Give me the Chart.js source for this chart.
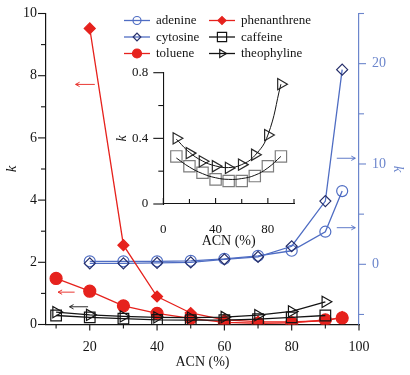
<!DOCTYPE html>
<html>
<head>
<meta charset="utf-8">
<script src="https://cdn.jsdelivr.net/npm/chart.js@4.4.0/dist/chart.umd.min.js"></script>
<style>
  body { margin: 0; background: #fff; }
  #wrap { position: relative; width: 410px; height: 375px; }
  #main-box { position: absolute; left: 0; top: 0; width: 410px; height: 375px; }
  #inset-box { position: absolute; left: 110px; top: 60px; width: 200px; height: 190px; }
</style>
</head>
<body>
<div id="wrap">
  <div id="main-box"><canvas id="mainChart"></canvas></div>
  <div id="inset-box"><canvas id="insetChart"></canvas></div>
</div>
<script>
// ACN (%) values
const acnBlue = [20, 30, 40, 50, 60, 70, 80, 90, 95]
const acnToluene = [10, 20, 30, 40, 50, 60, 70, 80, 90, 95]
const acnBlack = [10, 20, 30, 40, 50, 60, 70, 80, 90]

// k values (left axis unless noted)
const adenine = [0.3, 0.3, 0.3, 0.35, 0.55, 0.85, 1.35, 3.25, 7.3]      // right axis
const cytosine = [0.1, 0.1, 0.15, 0.2, 0.5, 0.75, 1.8, 6.3, 19.4]        // right axis
const phenanthrene = [9.52, 2.55, 0.9, 0.37, 0.15, 0.09, 0.08, 0.12, 0.24]
const toluene = [1.48, 1.07, 0.6, 0.36, 0.2, 0.07, 0.04, 0.05, 0.15, 0.21]
const caffeine = [0.29, 0.23, 0.19, 0.15, 0.14, 0.14, 0.17, 0.23, 0.29]
const theophyline = [0.40, 0.31, 0.26, 0.23, 0.22, 0.24, 0.30, 0.42, 0.73]

// inset fitted curves
const caffeineFit = [0.28, 0.225, 0.185, 0.16, 0.15, 0.155, 0.175, 0.22, 0.29]
const theophylineFit = [0.395, 0.315, 0.262, 0.232, 0.222, 0.24, 0.295, 0.42, 0.73]

// tick values
const xTicks = [10, 20, 30, 40, 50, 60, 70, 80, 90, 100]
const yTicks = [0, 1, 2, 3, 4, 5, 6, 7, 8, 9, 10]
const y2Ticks = [-5, 0, 5, 10, 15, 20, 25]
const insetXTicks = [0, 20, 40, 60, 80, 100]
const insetYTicks = [0, 0.2, 0.4, 0.6, 0.8]

// arrows pointing at the axis each curve belongs to (ACN from, ACN to, k)
const arrowFrom = [21.5, 15.5, 19.5, 93.4, 93.4]
const arrowTo = [15.8, 10.6, 14.0, 98.9, 98.9]
const arrowK = [7.72, 1.04, 0.57, 10.57, 3.65]
const arrowAxis = ['y', 'y', 'y', 'y2', 'y2']

const BLUE = '#4f6dc3'
const NAVY = '#27306b'
const AXIS_BLUE = '#6c86cc'
const RED = '#e6221d'
const INK = '#141414'
const CLEAR = 'rgba(0,0,0,0)'
const SERIF = '"Liberation Serif", "Times New Roman", serif'

const pts = (xs, ys) => xs.map((x, i) => ({ x: x, y: ys[i] }))
const setTicks = (vals) => (scale) => { scale.ticks = vals.map(v => ({ value: v })) }
const isStep = (v, step) => Math.abs(Math.round(v / step) * step - v) < 1e-9
// invisible tick marks only used to push the labels away from the axis
const labelGap = (len) => ({ drawOnChartArea: false, drawTicks: true, tickLength: len, tickColor: CLEAR })

// tick marks drawn by hand so major/minor lengths and direction match the figure
const tickMarks = {
    id: 'tickMarks',
    afterDraw(chart, args, opts) {
        const ctx = chart.ctx
        Object.keys(opts.scales || {}).forEach(id => {
            const s = chart.scales[id]
            const o = opts.scales[id]
            ctx.save()
            ctx.strokeStyle = o.color
            ctx.lineWidth = 1.1
            s.ticks.forEach(t => {
                const len = (isStep(t.value, o.step) ? o.major : o.minor) * o.dir
                const p = s.getPixelForValue(t.value)
                ctx.beginPath()
                if (s.position === 'bottom') {
                    ctx.moveTo(p, s.top); ctx.lineTo(p, s.top + len)
                } else if (s.position === 'left') {
                    ctx.moveTo(s.right, p); ctx.lineTo(s.right - len, p)
                } else {
                    ctx.moveTo(s.left, p); ctx.lineTo(s.left + len, p)
                }
                ctx.stroke()
            })
            ctx.restore()
        })
    }
}

const arrows = {
    id: 'arrows',
    afterDatasetsDraw(chart) {
        const ctx = chart.ctx
        const xs = chart.scales.x
        arrowK.forEach((k, i) => {
            const ys = chart.scales[arrowAxis[i]]
            const color = arrowAxis[i] === 'y2' ? BLUE : (i === 2 ? INK : RED)
            const x1 = xs.getPixelForValue(arrowFrom[i])
            const x2 = xs.getPixelForValue(arrowTo[i])
            const y = ys.getPixelForValue(k)
            const d = Math.sign(x2 - x1)
            ctx.save()
            ctx.strokeStyle = color
            ctx.lineWidth = 0.9
            ctx.beginPath()
            ctx.moveTo(x1, y); ctx.lineTo(x2, y)
            ctx.moveTo(x2 - d * 4, y - 2.2); ctx.lineTo(x2, y); ctx.lineTo(x2 - d * 4, y + 2.2)
            ctx.stroke()
            ctx.restore()
        })
    }
}

// two-column legend inside the plot
const columnLegend = {
    id: 'columnLegend',
    afterDraw(chart, args, opts) {
        const ctx = chart.ctx
        opts.items.forEach((item, i) => {
            const ds = chart.data.datasets.find(d => d.label === item.label)
            const col = Math.floor(i / 3)
            const x = opts.x[col]
            const y = opts.y[i % 3]
            ctx.save()
            ctx.strokeStyle = ds.borderColor
            ctx.lineWidth = 1.3
            ctx.beginPath()
            ctx.moveTo(x, y); ctx.lineTo(x + 26, y)
            ctx.stroke()
            ctx.fillStyle = ds.pointBackgroundColor
            ctx.strokeStyle = ds.pointBorderColor
            ctx.lineWidth = 1.2
            Chart.helpers.drawPoint(ctx, {
                pointStyle: ds.pointStyle, rotation: ds.pointRotation || 0,
                radius: item.r, borderWidth: 1.2
            }, x + 13, y)
            ctx.fillStyle = INK
            ctx.font = '13px ' + SERIF
            ctx.textBaseline = 'middle'
            ctx.fillText(item.label, x + 32, y + 0.5)
            ctx.restore()
        })
    }
}

const tickFont = { family: SERIF, size: 14 }

const mainDatasets = [
    {
        label: 'adenine', data: pts(acnBlue, adenine), yAxisID: 'y2',
        borderColor: BLUE, pointBorderColor: BLUE, pointBackgroundColor: CLEAR,
        pointStyle: 'circle', pointRadius: 5.5, order: 5
    },
    {
        label: 'cytosine', data: pts(acnBlue, cytosine), yAxisID: 'y2',
        borderColor: BLUE, pointBorderColor: NAVY, pointBackgroundColor: CLEAR,
        pointStyle: 'rectRot', pointRadius: 5.5, order: 4
    },
    {
        label: 'toluene', data: pts(acnToluene, toluene), yAxisID: 'y',
        borderColor: RED, pointBorderColor: RED, pointBackgroundColor: RED,
        pointStyle: 'circle', pointRadius: 6, order: 3
    },
    {
        label: 'phenanthrene', data: pts(acnBlue, phenanthrene), yAxisID: 'y',
        borderColor: RED, pointBorderColor: RED, pointBackgroundColor: RED,
        pointStyle: 'rectRot', pointRadius: 5.5, order: 2
    },
    {
        label: 'caffeine', data: pts(acnBlack, caffeine), yAxisID: 'y',
        borderColor: INK, pointBorderColor: INK, pointBackgroundColor: CLEAR,
        pointStyle: 'rect', pointRadius: 7.5, order: 1
    },
    {
        label: 'theophyline', data: pts(acnBlack, theophyline), yAxisID: 'y',
        borderColor: INK, pointBorderColor: INK, pointBackgroundColor: CLEAR,
        pointStyle: 'triangle', pointRotation: 90, pointRadius: 6.5, order: 0
    }
]
mainDatasets.forEach(d => {
    d.borderWidth = 1.3
    d.pointBorderWidth = 1.2
    d.tension = 0
})

new Chart(document.getElementById('mainChart').getContext('2d'), {
    type: 'line',
    data: { datasets: mainDatasets },
    options: {
        responsive: true,
        maintainAspectRatio: false,
        animation: false,
        layout: { padding: { top: 13.5, left: 0, right: 0, bottom: 0 } },
        scales: {
            x: {
                type: 'linear', min: 7, max: 100,
                afterBuildTicks: setTicks(xTicks),
                afterFit: s => { s.height = 50.5 },
                ticks: { callback: v => (v % 20 === 0 ? v : ''), font: tickFont, color: INK, padding: 0, maxRotation: 0, autoSkip: false },
                grid: labelGap(14),
                border: { color: INK, width: 1.2 },
                title: { display: true, text: 'ACN (%)', font: tickFont, color: INK, padding: { top: 0, bottom: 4 } }
            },
            y: {
                position: 'left', min: 0, max: 10,
                afterBuildTicks: setTicks(yTicks),
                afterFit: s => { s.width = 46 },
                ticks: { callback: v => (v % 2 === 0 ? v : ''), font: tickFont, color: INK, padding: 0, autoSkip: false },
                grid: labelGap(9),
                border: { color: INK, width: 1.2 },
                title: { display: true, text: 'k', font: { family: SERIF, size: 15, style: 'italic' }, color: INK, padding: { top: 3, bottom: 0 } }
            },
            y2: {
                position: 'right', min: -6, max: 25,
                afterBuildTicks: setTicks(y2Ticks),
                afterFit: s => { s.width = 51 },
                ticks: { callback: v => (v % 10 === 0 ? v : ''), font: tickFont, color: AXIS_BLUE, padding: 0, autoSkip: false },
                grid: labelGap(13),
                border: { color: AXIS_BLUE, width: 1.2 },
                title: { display: true, text: 'k', font: { family: SERIF, size: 15, style: 'italic' }, color: AXIS_BLUE, padding: { top: 3, bottom: 0 } }
            }
        },
        plugins: {
            legend: { display: false },
            tooltip: { enabled: false },
            tickMarks: {
                scales: {
                    x: { color: INK, step: 20, major: 6, minor: 4, dir: 1 },
                    y: { color: INK, step: 2, major: 8, minor: 5, dir: 1 },
                    y2: { color: AXIS_BLUE, step: 10, major: 7, minor: 5, dir: 1 }
                }
            },
            columnLegend: {
                x: [124, 209],
                y: [20.5, 37, 53.5],
                items: [
                    { label: 'adenine', r: 4 }, { label: 'cytosine', r: 3.8 }, { label: 'toluene', r: 4.5 },
                    { label: 'phenanthrene', r: 4 }, { label: 'caffeine', r: 6.5 }, { label: 'theophyline', r: 4.5 }
                ]
            }
        }
    },
    plugins: [tickMarks, arrows, columnLegend]
})

// inset: caffeine and theophyline with fitted curves
const insetDatasets = [
    {
        label: 'theophyline fit', data: pts(acnBlack, theophylineFit),
        borderColor: INK, borderWidth: 1, pointRadius: 0, tension: 0.45
    },
    {
        label: 'caffeine fit', data: pts(acnBlack, caffeineFit),
        borderColor: INK, borderWidth: 1, pointRadius: 0, tension: 0.45
    },
    {
        label: 'theophyline', data: pts(acnBlack, theophyline), showLine: false,
        pointStyle: 'triangle', pointRotation: 90, pointRadius: 6.5,
        pointBorderColor: '#2a2a2a', pointBackgroundColor: CLEAR, pointBorderWidth: 1.2
    },
    {
        label: 'caffeine', data: pts(acnBlack, caffeine), showLine: false,
        pointStyle: 'rect', pointRadius: 8,
        pointBorderColor: '#7d7d7d', pointBackgroundColor: CLEAR, pointBorderWidth: 1.2
    }
]

const insetFont = { family: SERIF, size: 13 }

new Chart(document.getElementById('insetChart').getContext('2d'), {
    type: 'line',
    data: { datasets: insetDatasets },
    options: {
        responsive: true,
        maintainAspectRatio: false,
        animation: false,
        layout: { padding: { top: 12.7, right: 16, left: 0, bottom: 0 } },
        scales: {
            x: {
                type: 'linear', min: 0, max: 100,
                afterBuildTicks: setTicks(insetXTicks),
                afterFit: s => { s.height = 46 },
                ticks: { callback: v => (v % 40 === 0 ? v : ''), font: insetFont, color: INK, padding: 0, maxRotation: 0, autoSkip: false },
                grid: labelGap(18),
                border: { color: INK, width: 1.1 },
                title: { display: true, text: 'ACN (%)', font: { family: SERIF, size: 14 }, color: INK, padding: { top: 0, bottom: 0 } }
            },
            y: {
                min: 0, max: 0.8,
                afterBuildTicks: setTicks(insetYTicks),
                afterFit: s => { s.width = 53.3 },
                ticks: { callback: v => (isStep(v, 0.4) ? (v === 0 ? '0' : v.toFixed(1)) : ''), font: insetFont, color: INK, padding: 0, autoSkip: false },
                grid: labelGap(15),
                border: { color: INK, width: 1.1 },
                title: { display: true, text: 'k', font: { family: SERIF, size: 14, style: 'italic' }, color: INK, padding: { top: 4, bottom: 0 } }
            }
        },
        plugins: {
            legend: { display: false },
            tooltip: { enabled: false },
            tickMarks: {
                scales: {
                    x: { color: INK, step: 40, major: 6, minor: 5, dir: -1 },
                    y: { color: INK, step: 0.4, major: 10, minor: 5, dir: 1 }
                }
            }
        }
    },
    plugins: [tickMarks]
})
</script>
</body>
</html>
